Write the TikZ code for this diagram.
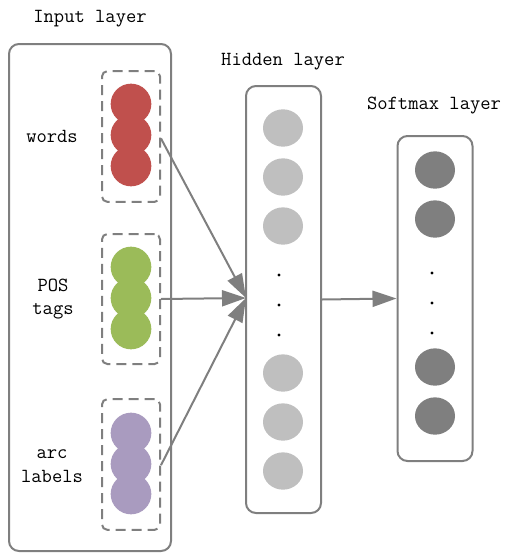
\documentclass[tikz,border=0pt]{standalone}
\usetikzlibrary{arrows.meta,shapes.geometric}
\definecolor{lgray}{HTML}{7F7F7F}
\definecolor{cred}{HTML}{C0504D}
\definecolor{cgreen}{HTML}{9BBB59}
\definecolor{cpurple}{HTML}{A99BBF}
\definecolor{chid}{HTML}{BFBFBF}
\definecolor{csoft}{HTML}{7F7F7F}
\begin{document}
\begin{tikzpicture}[x=0.75pt,y=-0.75pt,
  lbl/.style={font=\fontsize{15pt}{17.5pt}\ttfamily, inner sep=0pt, align=center},
  layerbox/.style={draw=lgray, line width=1.5pt, rounded corners=7.5pt},
  groupbox/.style={draw=lgray, line width=1.5pt, dashed, dash pattern=on 7.5pt off 4.5pt, rounded corners=4pt},
  inunit/.style={circle, minimum size=30.5pt, inner sep=0pt},
  unit/.style={ellipse, minimum width=30pt, minimum height=28pt, inner sep=0pt},
  dotn/.style={circle, fill=black, minimum size=2.4pt, inner sep=0pt},
  conn/.style={draw=lgray, line width=1.5pt, -{Triangle[length=18pt,width=12pt]}}]
\useasboundingbox (0,0) rectangle (504,553);
% Input layer
\node[lbl] (tin) at (90,19) {Input layer};
\draw[layerbox] (9,44) rectangle (171,551);
\node[groupbox, minimum width=43.5pt, minimum height=98pt] (gw) at (131,136.5) {};
\node[groupbox, minimum width=43.5pt, minimum height=97.5pt] (gp) at (131,299) {};
\node[groupbox, minimum width=43.5pt, minimum height=98pt] (ga) at (131,464.5) {};
\foreach \y/\n in {104/1,135/2,166/3} \node[inunit, fill=cred] (r\n) at (131,\y) {};
\foreach \y/\n in {267/1,298/2,329/3} \node[inunit, fill=cgreen] (g\n) at (131,\y) {};
\foreach \y/\n in {433/1,464/2,494/3} \node[inunit, fill=cpurple] (p\n) at (131,\y) {};
\node[lbl] (lw) at (52,136) {words};
\node[lbl] (lp) at (53,299) {POS\\tags};
\node[lbl] (la) at (52,466) {arc\\labels};
% Hidden layer
\node[lbl] (th) at (283,62) {Hidden layer};
\node[layerbox, minimum width=56.25pt, minimum height=320.25pt, inner sep=0pt] (hid) at (283.5,299.5) {};
\foreach \y/\n in {128/1,177/2,226/3,373/4,422/5,471/6} \node[unit, fill=chid] (h\n) at (283,\y) {};
\foreach \y/\n in {275/1,305/2,335/3} \node[dotn] (hd\n) at (279,\y) {};
% Softmax layer
\node[lbl] (ts) at (434,106) {Softmax layer};
\node[layerbox, minimum width=56.25pt, minimum height=243.75pt, inner sep=0pt] (soft) at (435,298.5) {};
\foreach \y/\n in {170/1,219/2,367/3,416/4} \node[unit, fill=csoft] (s\n) at (435,\y) {};
\foreach \y/\n in {273/1,303/2,333/3} \node[dotn] (sd\n) at (432,\y) {};
% connectors
\coordinate (hin) at (246,298);
\draw[conn] ([yshift=-1.5pt]gw.east) -- (hin);
\draw[conn] (gp.east) -- (hin);
\draw[conn] ([yshift=-0.5pt]ga.east) -- (hin);
\draw[conn] (hid.east) -- (soft.west);
\end{tikzpicture}
\end{document}
